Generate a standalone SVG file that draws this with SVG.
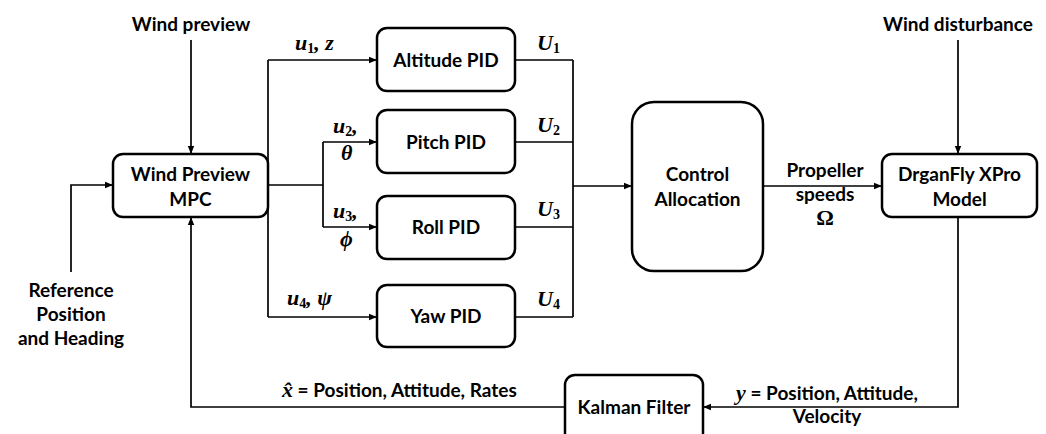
<svg xmlns="http://www.w3.org/2000/svg" width="1046" height="434" viewBox="0 0 1046 434">
<defs>
<marker id="ah" viewBox="0 0 10 10" refX="10" refY="5" markerWidth="8" markerHeight="8" markerUnits="userSpaceOnUse" orient="auto">
<path d="M0,1 L10,5 L0,9 Z" fill="#000"/>
</marker>
<style>
.box{fill:#fff;stroke:#000;stroke-width:2.5}
.ln{fill:none;stroke:#000;stroke-width:1.7}
.arr{fill:none;stroke:#000;stroke-width:1.7;marker-end:url(#ah)}
.t{font-family:Lato,"Open Sans","Liberation Sans",sans-serif;font-weight:bold;font-size:19px;fill:#000;text-anchor:middle}
.tl{font-family:Lato,"Open Sans","Liberation Sans",sans-serif;font-weight:bold;font-size:19px;fill:#000}
.m{font-family:"Liberation Serif","DejaVu Serif",serif;font-weight:bold;font-style:italic;font-size:22px;fill:#000}
.s{font-style:normal;font-size:14px}
</style>
</defs>
<g id="connectors">
<path class="arr" d="M191,40 V154"/>
<path class="arr" d="M958,40 V154"/>
<path class="arr" d="M71,272 V185 H113"/>
<path class="ln" d="M268,185 H323"/>
<path class="ln" d="M268,60 V317"/>
<path class="arr" d="M268,60 H377"/>
<path class="arr" d="M268,317 H377"/>
<path class="ln" d="M323,142 V227"/>
<path class="arr" d="M323,142 H377"/>
<path class="arr" d="M323,227 H377"/>
<path class="ln" d="M515,60 H573 M515,142 H573 M515,227 H573 M515,317 H573 M573,60 V317"/>
<path class="arr" d="M573,186 H632"/>
<path class="arr" d="M763,186 H882"/>
<path class="arr" d="M958,217 V407 H703"/>
<path class="arr" d="M565,407 H191 V217"/>
</g>
<g id="wind-preview-mpc">
<rect class="box" x="113" y="154" width="155" height="63" rx="10"/>
<text class="t" x="190.5" y="181">Wind Preview</text>
<text class="t" x="190.5" y="206">MPC</text>
</g>
<g id="altitude-pid">
<rect class="box" x="377" y="28" width="138" height="63" rx="10"/>
<text class="t" x="446" y="67">Altitude PID</text>
</g>
<g id="pitch-pid">
<rect class="box" x="377" y="110" width="138" height="63" rx="10"/>
<text class="t" x="446" y="149">Pitch PID</text>
</g>
<g id="roll-pid">
<rect class="box" x="377" y="196" width="138" height="63" rx="10"/>
<text class="t" x="446" y="234">Roll PID</text>
</g>
<g id="yaw-pid">
<rect class="box" x="377" y="285" width="138" height="62" rx="10"/>
<text class="t" x="446" y="323">Yaw PID</text>
</g>
<g id="control-allocation">
<rect class="box" x="632" y="102" width="131" height="169" rx="22"/>
<text class="t" x="697.5" y="181">Control</text>
<text class="t" x="697.5" y="206">Allocation</text>
</g>
<g id="drganfly-model">
<rect class="box" x="882" y="154" width="155" height="63" rx="10"/>
<text class="t" x="959.5" y="181">DrganFly XPro</text>
<text class="t" x="959.5" y="206">Model</text>
</g>
<g id="kalman-filter">
<rect class="box" x="565" y="375" width="138" height="70" rx="10"/>
<text class="t" x="634" y="414">Kalman Filter</text>
</g>
<g id="labels">
<text class="t" x="191" y="31">Wind preview</text>
<text class="t" x="958" y="31">Wind disturbance</text>
<text class="t" x="71" y="297">Reference</text>
<text class="t" x="71" y="321">Position</text>
<text class="t" x="71" y="345">and Heading</text>
<text class="t" x="825" y="177">Propeller</text>
<text class="t" x="825" y="201">speeds</text>
<text class="m" x="825" y="225" text-anchor="middle" style="font-style:normal">Ω</text>
<text class="m" x="295" y="50">u<tspan class="s" dy="3">1</tspan><tspan dy="-3">, z</tspan></text>
<text class="m" x="333" y="133">u<tspan class="s" dy="3">2</tspan><tspan dy="-3">,</tspan></text>
<text class="m" x="341" y="160">θ</text>
<text class="m" x="333" y="218">u<tspan class="s" dy="3">3</tspan><tspan dy="-3">,</tspan></text>
<text class="m" x="340" y="246">ϕ</text>
<text class="m" x="287" y="305">u<tspan class="s" dy="3">4</tspan><tspan dy="-3">, ψ</tspan></text>
<text class="m" x="537" y="50">U<tspan class="s" dy="3">1</tspan></text>
<text class="m" x="537" y="132">U<tspan class="s" dy="3">2</tspan></text>
<text class="m" x="537" y="216">U<tspan class="s" dy="3">3</tspan></text>
<text class="m" x="537" y="306">U<tspan class="s" dy="3">4</tspan></text>
<text class="tl" x="282" y="397"><tspan class="m">x̂</tspan> = Position, Attitude, Rates</text>
<text class="t" x="827" y="400"><tspan class="m">y</tspan> = Position, Attitude,</text>
<text class="t" x="827" y="423">Velocity</text>
</g>
</svg>
